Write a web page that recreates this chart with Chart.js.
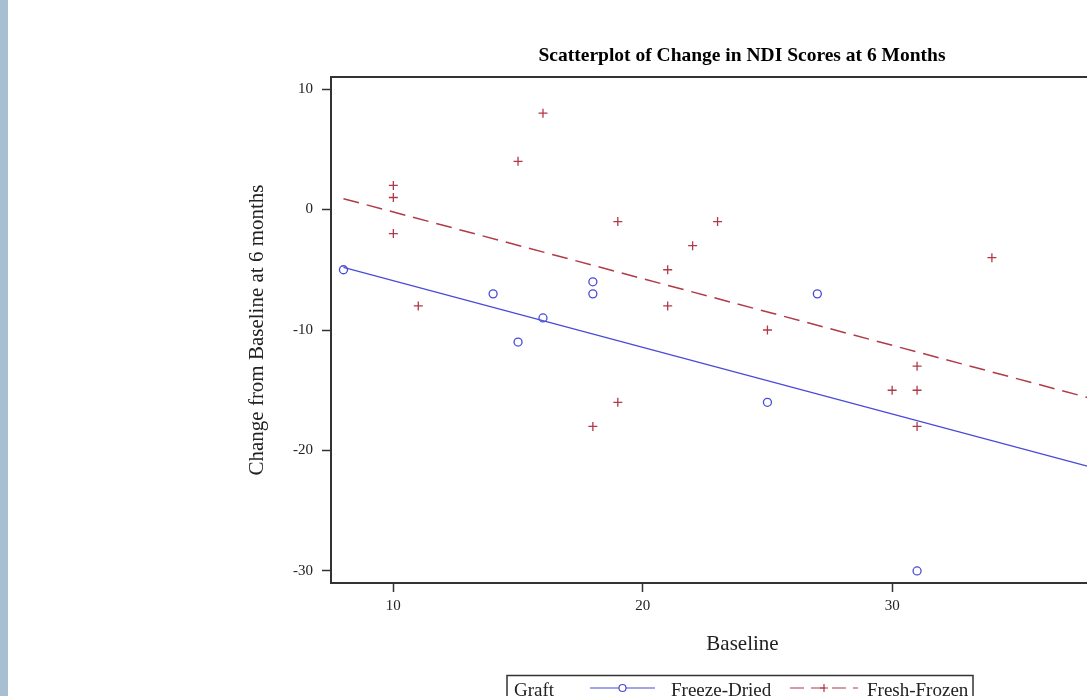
<!DOCTYPE html>
<html>
<head>
<meta charset="utf-8">
<title>Scatterplot of Change in NDI Scores at 6 Months</title>
<script src="https://cdn.jsdelivr.net/npm/chart.js@4/dist/chart.umd.min.js"></script>
<style>
    body { margin: 0; background: #fff; overflow: hidden; width: 1087px; height: 696px; position: relative; }
    #strip { position: absolute; left: 0; top: 0; width: 8px; height: 696px; background: #a7bfd0; z-index: 2; }
    #wrap { position: absolute; left: 0; top: 0; width: 1484px; height: 696px; }
</style>
</head>
<body>
<div id="strip"></div>
<div id="wrap"><canvas id="chartNdi" width="1484" height="696"></canvas></div>
<script>
// baseline NDI and change at 6 months, per graft type
const freezeDriedX = [8, 14, 15, 16, 18, 18, 25, 27, 31];
const freezeDriedY = [-5, -7, -11, -9, -6, -7, -16, -7, -30];

const freshFrozenX = [10, 10, 10, 11, 15, 16, 18, 19, 19, 21, 21, 22, 23, 25, 30, 31, 31, 31, 34];
const freshFrozenY = [2, 1, -2, -8, 4, 8, -18, -1, -16, -5, -8, -3, -1, -10, -15, -13, -15, -18, -4];

// fitted regression lines (end points)
const fitX = [8, 40];
const fitFreezeDried = [-4.8, -22.5];
const fitFreshFrozen = [0.9, -16.8];

const xTicks = [10, 20, 30, 40];
const yTicks = [-30, -20, -10, 0, 10];

const chartTitle = "Scatterplot of Change in NDI Scores at 6 Months";

const BLUE = "#4a4ad8";
const RED = "#b03a48";
const INK = "#222";
const SERIF = '"Liberation Serif", "Times New Roman", serif';

Chart.defaults.font.family = SERIF;
Chart.defaults.color = INK;

function toPoints(xs, ys) {
    return xs.map((x, i) => ({ x: x, y: ys[i] }));
}

// plot frame on all four sides
const frame = {
    id: "frame",
    afterDatasetsDraw(chart) {
        const a = chart.chartArea, c = chart.ctx;
        c.save();
        c.strokeStyle = "#333";
        c.lineWidth = 2;
        c.strokeRect(a.left, a.top, a.right - a.left, a.bottom - a.top);
        c.restore();
    }
};

// title centred on the whole graph, not on the padded box
const graphTitle = {
    id: "graphTitle",
    afterDraw(chart) {
        const c = chart.ctx;
        c.save();
        c.font = "bold 19.5px " + SERIF;
        c.fillStyle = "#000";
        c.textAlign = "center";
        c.textBaseline = "alphabetic";
        c.fillText(chartTitle, 742, 61);
        c.restore();
    }
};

// SAS style boxed legend with "Graft" heading
const graftLegend = {
    id: "graftLegend",
    afterDraw(chart) {
        const c = chart.ctx;
        const sets = chart.data.datasets.filter(d => d.legend);
        c.save();
        c.strokeStyle = "#333";
        c.lineWidth = 1.5;
        c.strokeRect(507, 675.5, 466, 32);
        c.font = "19px " + SERIF;
        c.fillStyle = INK;
        c.textBaseline = "alphabetic";
        c.fillText("Graft", 514, 696);

        const spots = [{ x0: 590, x1: 655, tx: 671 }, { x0: 790, x1: 858, tx: 867 }];
        sets.forEach((d, i) => {
            const s = spots[i], y = 688, mid = (s.x0 + s.x1) / 2;
            c.strokeStyle = d.legendColor;
            c.lineWidth = 1.2;
            c.setLineDash(d.legendDash || []);
            c.beginPath();
            c.moveTo(s.x0, y);
            c.lineTo(s.x1, y);
            c.stroke();
            c.setLineDash([]);
            if (d.pointStyle === "circle") {
                c.fillStyle = "#fff";
                c.beginPath();
                c.arc(mid, y, 3.5, 0, Math.PI * 2);
                c.fill();
                c.stroke();
            } else {
                c.beginPath();
                c.moveTo(mid - 4, y); c.lineTo(mid + 4, y);
                c.moveTo(mid, y - 4); c.lineTo(mid, y + 4);
                c.stroke();
            }
            c.fillStyle = INK;
            c.fillText(d.label, s.tx, 696);
        });
        c.restore();
    }
};

new Chart(document.getElementById("chartNdi"), {
    type: "scatter",
    data: {
        datasets: [
            {
                label: "Freeze-Dried",
                legend: true,
                legendColor: BLUE,
                data: toPoints(freezeDriedX, freezeDriedY),
                pointStyle: "circle",
                pointRadius: 4,
                pointBorderWidth: 1.3,
                borderColor: BLUE,
                backgroundColor: "rgba(0,0,0,0)"
            },
            {
                label: "Fresh-Frozen",
                legend: true,
                legendColor: RED,
                legendDash: [14, 7],
                data: toPoints(freshFrozenX, freshFrozenY),
                pointStyle: "cross",
                pointRadius: 4.5,
                pointBorderWidth: 1.3,
                borderColor: RED,
                backgroundColor: RED
            },
            {
                label: "fit FD",
                data: toPoints(fitX, fitFreezeDried),
                showLine: true,
                pointRadius: 0,
                borderColor: BLUE,
                borderWidth: 1.2
            },
            {
                label: "fit FF",
                data: toPoints(fitX, fitFreshFrozen),
                showLine: true,
                pointRadius: 0,
                borderColor: RED,
                borderWidth: 1.5,
                borderDash: [16, 8]
            }
        ]
    },
    options: {
        responsive: false,
        animation: false,
        devicePixelRatio: 1,
        layout: { padding: { left: 245, right: 330, top: 77, bottom: 39 } },
        plugins: {
            legend: { display: false },
            tooltip: { enabled: false },
            title: { display: false }
        },
        scales: {
            x: {
                type: "linear",
                min: 7.5,
                max: 40.5,
                afterBuildTicks: s => { s.ticks = xTicks.map(v => ({ value: v })); },
                afterFit: s => { s.height = 74; },
                border: { display: false },
                grid: { drawOnChartArea: false, tickLength: 9, tickColor: "#333", tickWidth: 1.5 },
                ticks: { font: { size: 15 }, color: INK, padding: 5, maxRotation: 0 },
                title: { display: true, text: "Baseline", font: { size: 21 }, color: INK, padding: 0 }
            },
            y: {
                type: "linear",
                min: -31,
                max: 11,
                afterBuildTicks: s => { s.ticks = yTicks.map(v => ({ value: v })); },
                afterFit: s => { s.width = 86; },
                border: { display: false },
                grid: { drawOnChartArea: false, tickLength: 9, tickColor: "#333", tickWidth: 1.5 },
                ticks: { font: { size: 15 }, color: INK, padding: 9 },
                title: { display: true, text: "Change from Baseline at 6 months", font: { size: 21 }, color: INK, padding: 0 }
            }
        }
    },
    plugins: [frame, graphTitle, graftLegend]
});
</script>
</body>
</html>
